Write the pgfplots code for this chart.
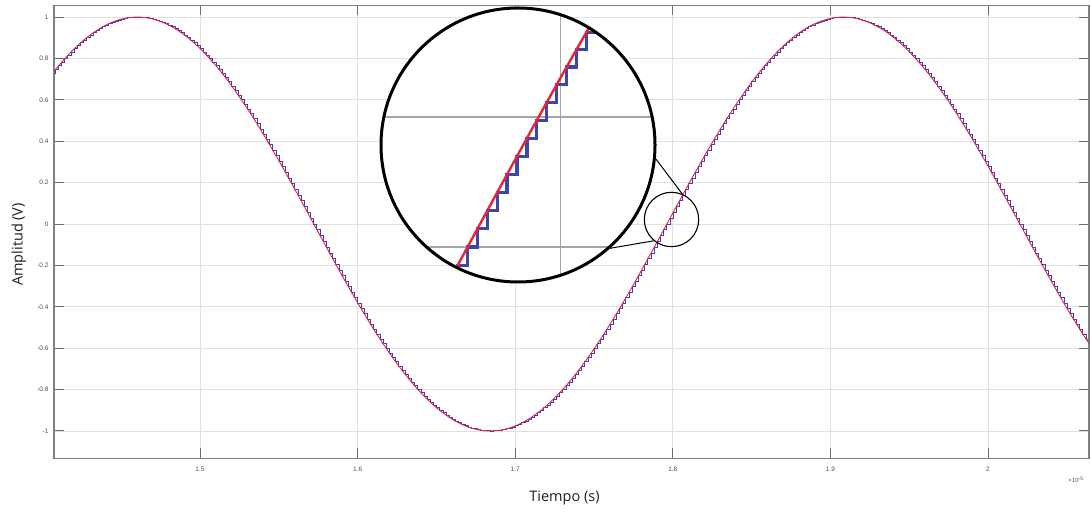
\documentclass[border=0pt]{standalone}
\usepackage{pgfplots}
\pgfplotsset{compat=1.18}
\usepackage{pgfplotstable}
\usepackage{fontspec}
\setmainfont{Liberation Sans}
\newfontfamily\labelfont{Open Sans}

\definecolor{sigblue}{RGB}{55,65,190}
\definecolor{sigred}{RGB}{235,35,55}
\definecolor{zoomblue}{RGB}{60,72,168}
\definecolor{framegray}{RGB}{128,128,128}
\definecolor{gridgray}{RGB}{224,224,224}
\definecolor{ticktext}{RGB}{77,77,77}

% Sampled sine (time in units of 1e-5 s, sample step 0.002)
\pgfplotstableread{
t y
1.4062 0.7267
1.4082 0.7456
1.4102 0.7640
1.4122 0.7818
1.4142 0.7990
1.4162 0.8156
1.4182 0.8315
1.4202 0.8467
1.4222 0.8613
1.4242 0.8752
1.4262 0.8885
1.4282 0.9010
1.4302 0.9128
1.4322 0.9239
1.4342 0.9342
1.4362 0.9439
1.4382 0.9528
1.4402 0.9609
1.4422 0.9683
1.4442 0.9749
1.4462 0.9808
1.4482 0.9859
1.4502 0.9902
1.4522 0.9937
1.4542 0.9965
1.4562 0.9984
1.4582 0.9996
1.4602 1.0000
1.4622 0.9996
1.4642 0.9984
1.4662 0.9965
1.4682 0.9937
1.4702 0.9902
1.4722 0.9859
1.4742 0.9808
1.4762 0.9749
1.4782 0.9683
1.4802 0.9609
1.4822 0.9528
1.4842 0.9439
1.4862 0.9342
1.4882 0.9239
1.4902 0.9128
1.4922 0.9010
1.4942 0.8885
1.4962 0.8752
1.4982 0.8613
1.5002 0.8467
1.5022 0.8315
1.5042 0.8156
1.5062 0.7990
1.5082 0.7818
1.5102 0.7640
1.5122 0.7456
1.5142 0.7267
1.5162 0.7071
1.5182 0.6870
1.5202 0.6664
1.5222 0.6452
1.5242 0.6235
1.5262 0.6013
1.5282 0.5787
1.5302 0.5556
1.5322 0.5320
1.5342 0.5081
1.5362 0.4837
1.5382 0.4590
1.5402 0.4339
1.5422 0.4085
1.5442 0.3827
1.5462 0.3566
1.5482 0.3303
1.5502 0.3037
1.5522 0.2768
1.5542 0.2498
1.5562 0.2225
1.5582 0.1951
1.5602 0.1675
1.5622 0.1398
1.5642 0.1120
1.5662 0.0841
1.5682 0.0561
1.5702 0.0280
1.5722 0.0000
1.5742 -0.0280
1.5762 -0.0561
1.5782 -0.0841
1.5802 -0.1120
1.5822 -0.1398
1.5842 -0.1675
1.5862 -0.1951
1.5882 -0.2225
1.5902 -0.2498
1.5922 -0.2768
1.5942 -0.3037
1.5962 -0.3303
1.5982 -0.3566
1.6002 -0.3827
1.6022 -0.4085
1.6042 -0.4339
1.6062 -0.4590
1.6082 -0.4837
1.6102 -0.5081
1.6122 -0.5320
1.6142 -0.5556
1.6162 -0.5787
1.6182 -0.6013
1.6202 -0.6235
1.6222 -0.6452
1.6242 -0.6664
1.6262 -0.6870
1.6282 -0.7071
1.6302 -0.7267
1.6322 -0.7456
1.6342 -0.7640
1.6362 -0.7818
1.6382 -0.7990
1.6402 -0.8156
1.6422 -0.8315
1.6442 -0.8467
1.6462 -0.8613
1.6482 -0.8752
1.6502 -0.8885
1.6522 -0.9010
1.6542 -0.9128
1.6562 -0.9239
1.6582 -0.9342
1.6602 -0.9439
1.6622 -0.9528
1.6642 -0.9609
1.6662 -0.9683
1.6682 -0.9749
1.6702 -0.9808
1.6722 -0.9859
1.6742 -0.9902
1.6762 -0.9937
1.6782 -0.9965
1.6802 -0.9984
1.6822 -0.9996
1.6842 -1.0000
1.6862 -0.9996
1.6882 -0.9984
1.6902 -0.9965
1.6922 -0.9937
1.6942 -0.9902
1.6962 -0.9859
1.6982 -0.9808
1.7002 -0.9749
1.7022 -0.9683
1.7042 -0.9609
1.7062 -0.9528
1.7082 -0.9439
1.7102 -0.9342
1.7122 -0.9239
1.7142 -0.9128
1.7162 -0.9010
1.7182 -0.8885
1.7202 -0.8752
1.7222 -0.8613
1.7242 -0.8467
1.7262 -0.8315
1.7282 -0.8156
1.7302 -0.7990
1.7322 -0.7818
1.7342 -0.7640
1.7362 -0.7456
1.7382 -0.7267
1.7402 -0.7071
1.7422 -0.6870
1.7442 -0.6664
1.7462 -0.6452
1.7482 -0.6235
1.7502 -0.6013
1.7522 -0.5787
1.7542 -0.5556
1.7562 -0.5320
1.7582 -0.5081
1.7602 -0.4837
1.7622 -0.4590
1.7642 -0.4339
1.7662 -0.4085
1.7682 -0.3827
1.7702 -0.3566
1.7722 -0.3303
1.7742 -0.3037
1.7762 -0.2768
1.7782 -0.2498
1.7802 -0.2225
1.7822 -0.1951
1.7842 -0.1675
1.7862 -0.1398
1.7882 -0.1120
1.7902 -0.0841
1.7922 -0.0561
1.7942 -0.0280
1.7962 0.0000
1.7982 0.0280
1.8002 0.0561
1.8022 0.0841
1.8042 0.1120
1.8062 0.1398
1.8082 0.1675
1.8102 0.1951
1.8122 0.2225
1.8142 0.2498
1.8162 0.2768
1.8182 0.3037
1.8202 0.3303
1.8222 0.3566
1.8242 0.3827
1.8262 0.4085
1.8282 0.4339
1.8302 0.4590
1.8322 0.4837
1.8342 0.5081
1.8362 0.5320
1.8382 0.5556
1.8402 0.5787
1.8422 0.6013
1.8442 0.6235
1.8462 0.6452
1.8482 0.6664
1.8502 0.6870
1.8522 0.7071
1.8542 0.7267
1.8562 0.7456
1.8582 0.7640
1.8602 0.7818
1.8622 0.7990
1.8642 0.8156
1.8662 0.8315
1.8682 0.8467
1.8702 0.8613
1.8722 0.8752
1.8742 0.8885
1.8762 0.9010
1.8782 0.9128
1.8802 0.9239
1.8822 0.9342
1.8842 0.9439
1.8862 0.9528
1.8882 0.9609
1.8902 0.9683
1.8922 0.9749
1.8942 0.9808
1.8962 0.9859
1.8982 0.9902
1.9002 0.9937
1.9022 0.9965
1.9042 0.9984
1.9062 0.9996
1.9082 1.0000
1.9102 0.9996
1.9122 0.9984
1.9142 0.9965
1.9162 0.9937
1.9182 0.9902
1.9202 0.9859
1.9222 0.9808
1.9242 0.9749
1.9262 0.9683
1.9282 0.9609
1.9302 0.9528
1.9322 0.9439
1.9342 0.9342
1.9362 0.9239
1.9382 0.9128
1.9402 0.9010
1.9422 0.8885
1.9442 0.8752
1.9462 0.8613
1.9482 0.8467
1.9502 0.8315
1.9522 0.8156
1.9542 0.7990
1.9562 0.7818
1.9582 0.7640
1.9602 0.7456
1.9622 0.7267
1.9642 0.7071
1.9662 0.6870
1.9682 0.6664
1.9702 0.6452
1.9722 0.6235
1.9742 0.6013
1.9762 0.5787
1.9782 0.5556
1.9802 0.5320
1.9822 0.5081
1.9842 0.4837
1.9862 0.4590
1.9882 0.4339
1.9902 0.4085
1.9922 0.3827
1.9942 0.3566
1.9962 0.3303
1.9982 0.3037
2.0002 0.2768
2.0022 0.2498
2.0042 0.2225
2.0062 0.1951
2.0082 0.1675
2.0102 0.1398
2.0122 0.1120
2.0142 0.0841
2.0162 0.0561
2.0182 0.0280
2.0202 0.0000
2.0222 -0.0280
2.0242 -0.0561
2.0262 -0.0841
2.0282 -0.1120
2.0302 -0.1398
2.0322 -0.1675
2.0342 -0.1951
2.0362 -0.2225
2.0382 -0.2498
2.0402 -0.2768
2.0422 -0.3037
2.0442 -0.3303
2.0462 -0.3566
2.0482 -0.3827
2.0502 -0.4085
2.0522 -0.4339
2.0542 -0.4590
2.0562 -0.4837
2.0582 -0.5081
2.0602 -0.5320
2.0622 -0.5556
2.0642 -0.5787
}\sig

\begin{document}
\begin{tikzpicture}
\useasboundingbox (0pt,0pt) rectangle (1091pt,511pt);

% main view
\begin{axis}[
  at={(54pt,52.5pt)}, anchor=south west,
  scale only axis, width=1035pt, height=453pt,
  xmin=1.40736, xmax=2.06409, ymin=-1.133, ymax=1.056,
  axis line style={framegray, line width=1.1pt},
  tick style={framegray!85!black, line width=1pt},
  major tick length=10pt, tick align=inside,
  grid=major, major grid style={gridgray, line width=0.9pt},
  xtick={1.5,1.6,1.7,1.8,1.9,2},
  xticklabels={1.5,1.6,1.7,1.8,1.9,2},
  ytick={-1,-0.8,-0.6,-0.4,-0.2,0,0.2,0.4,0.6,0.8,1},
  yticklabels={-1,-0.8,-0.6,-0.4,-0.2,0,0.2,0.4,0.6,0.8,1},
  ticklabel style={font=\fontsize{6.5}{7}\selectfont, text=ticktext},
  xticklabel style={yshift=-5pt},
  yticklabel style={xshift=-2pt},
]
\addplot[const plot, sigblue, line width=0.9pt] table[x=t, y=y] {\sig};
\addplot[sigred, line width=0.9pt] table[x=t, y=y] {\sig};
\end{axis}

% magnified view inside the circle
\begin{scope}
\fill[white] (518pt,366pt) circle (137pt);
\clip (518pt,366pt) circle (137pt);
\begin{axis}[
  at={(518pt,366pt)}, anchor=center,
  scale only axis, width=274pt, height=274pt,
  xmin=1.778716, xmax=1.834084, ymin=-0.05378, ymax=0.36778,
  axis line style={draw=none}, tick style={draw=none},
  major tick length=0pt,
  xtick={1.815}, ytick={0,0.2},
  xticklabels={}, yticklabels={},
  grid=major, major grid style={black!35, line width=1.1pt},
]
\addplot[const plot, zoomblue, line width=3.3pt] table[x=t, y=y] {\sig};
\addplot[sigred, line width=2.4pt] table[x=t, y=y] {\sig};
\end{axis}
\end{scope}
\draw[line width=3pt] (518pt,366pt) circle (137pt);

% source region and connectors
\draw[line width=1.1pt] (671.5pt,291.5pt) circle (27.2pt);
\draw[line width=1pt] (654.6pt,353.7pt) -- (682.3pt,317pt);
\draw[line width=1pt] (610pt,262.7pt) -- (655pt,270.4pt);

% labels
\node[font=\labelfont\fontsize{14.5}{16}\selectfont, text=black!88, anchor=base]
  at (564.5pt,10pt) {Tiempo (s)};
\node[font=\labelfont\fontsize{14.5}{16}\selectfont, text=black!88, anchor=base, rotate=90]
  at (22.7pt,266.5pt) {Amplitud (V)};
\node[font=\fontsize{6}{7}\selectfont, text=ticktext]
  at (1076pt,31pt) {×10\textsuperscript{-5}};
\end{tikzpicture}
\end{document}
